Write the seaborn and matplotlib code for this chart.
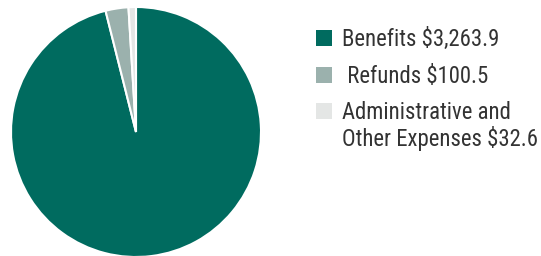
import matplotlib
matplotlib.use("Agg")
import matplotlib.pyplot as plt
import seaborn as sns

labels = ["Benefits $3,263.9", " Refunds $100.5", "Administrative and\nOther Expenses $32.6"]
values = [3263.9, 100.5, 32.6]
colors = ["#006b5f", "#9bb1ad", "#e4e6e5"]

sns.set_style("white")
plt.rcParams["font.family"] = ["Roboto Condensed", "DejaVu Sans"]

fig = plt.figure(figsize=(5.41, 2.56), dpi=100)
ax = fig.add_axes([(136 - 125) / 541, (256 - 132 - 125) / 256, 250 / 541, 250 / 256])
wedges, _ = ax.pie(values, colors=colors, startangle=90, counterclock=False,
                   wedgeprops=dict(edgecolor="white", linewidth=1.5))
ax.set_xlim(-1, 1)
ax.set_ylim(-1, 1)
ax.set_aspect("equal")

leg = fig.legend(wedges, labels, loc="upper left", bbox_to_anchor=(307 / 541, 1 - 19 / 256),
                 borderaxespad=0, frameon=False, fontsize=16.4, handlelength=0.7,
                 handleheight=0.7, handletextpad=0.44, labelspacing=0.6,
                 labelcolor="#333333")
for t in leg.get_texts():
    t.set_linespacing(1.1)
for h in leg.legend_handles:
    h.set_edgecolor("none")
# keep the last marker level with the first line of its two-line label
last = leg.legend_handles[2]
last.set_y(last.get_y() + 12)

fig.savefig("out.png", dpi=100)
